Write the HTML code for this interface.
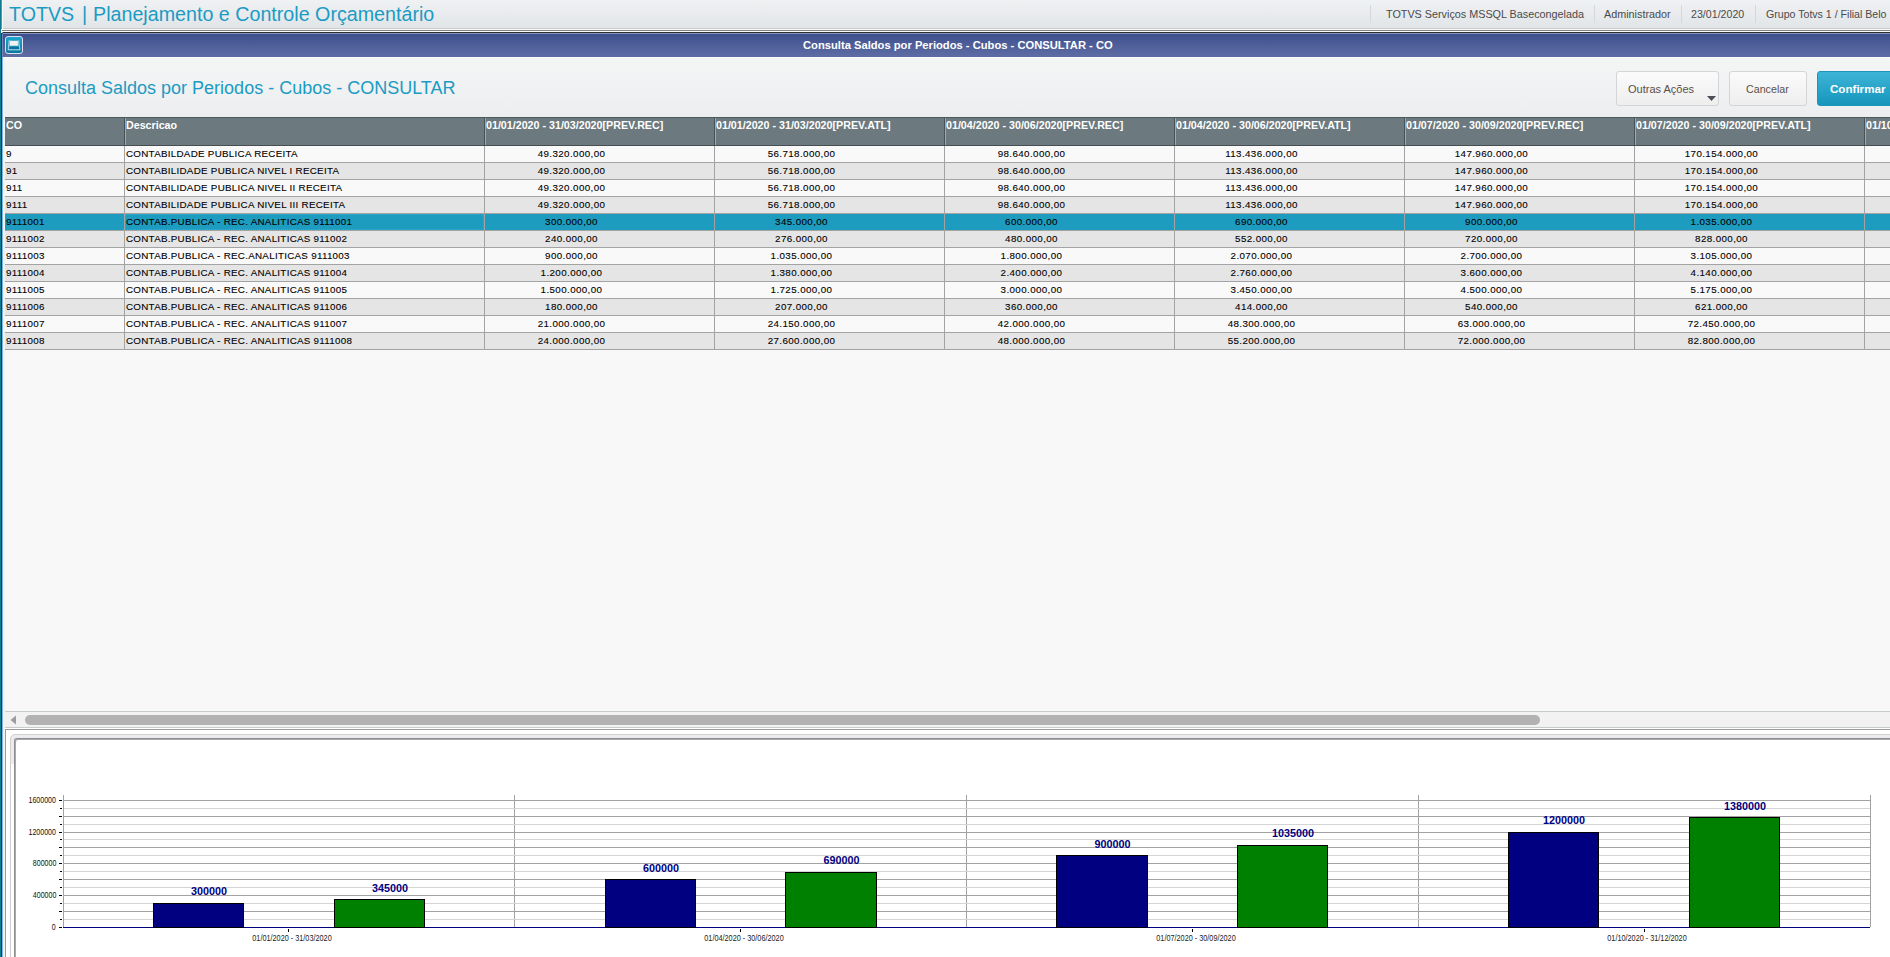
<!DOCTYPE html><html><head><meta charset="utf-8"><style>
*{margin:0;padding:0;box-sizing:border-box}
html,body{width:1890px;height:957px;overflow:hidden;background:#f8f8f8;font-family:"Liberation Sans", sans-serif}
.a{position:absolute}
.t{position:absolute;white-space:pre;line-height:1}
#topbar{left:0;top:0;width:1890px;height:28px;background:linear-gradient(#eff1f3,#e2e5e8)}
.apt{top:4px;font-size:20.5px;color:#1b9bc3;transform:scaleX(0.96);transform-origin:0 0}
.tr{font-size:10.8px;color:#4a4a4a;top:9px}
.sep{top:5px;width:1px;height:18px;background:#d5d8db}
#titlebar{left:2px;top:33px;width:1888px;height:24px;background:linear-gradient(#3c4e8b,#4b5b97 40%,#5e6da4)}
#wtitle{left:803px;top:40px;font-size:11.2px;font-weight:bold;color:#fff}
#content{left:3px;top:57px;width:1887px;height:60px;background:linear-gradient(#f4f5f5,#eceef0)}
#heading{left:25px;top:79px;font-size:18px;color:#1b9bc3}
.btn{position:absolute;top:71px;height:35px;border:1px solid #d3d5d7;border-radius:3px;background:linear-gradient(#fbfbfb,#eeeeee);font-size:11px;color:#5a5048}
.hdr{position:absolute;top:117px;height:29px;background:#6c7a7f;border-top:1px solid #4d585c;border-bottom:1px solid #464e51}
.hdrtxt{position:absolute;top:120px;font-size:10.7px;font-weight:bold;color:#fff;white-space:pre;line-height:1}
.row{position:absolute;left:5px;width:1885px;height:17px;border-bottom:1px solid #a3a3a3}
.cell{position:absolute;font-size:9.8px;letter-spacing:0.28px;color:#000;-webkit-text-stroke:0.1px #000;white-space:pre;line-height:1}
.ylab{font-size:8.2px;color:#111;transform:scaleX(0.86);transform-origin:100% 0}
.blab{font-size:10.8px;font-weight:bold;color:#000080}
.clab{font-size:8.3px;color:#222;transform:scaleX(0.878);transform-origin:50% 0}
.vs{position:absolute;width:1px;background:#a3a3a3}
</style></head><body>
<div class="a" id="topbar"></div>
<div class="t apt" style="left:9px">TOTVS</div>
<div class="t apt" style="left:82px">|</div>
<div class="t apt" style="left:93px">Planejamento e Controle Orçamentário</div>
<div class="a sep" style="left:1370px"></div>
<div class="a sep" style="left:1594px"></div>
<div class="a sep" style="left:1681px"></div>
<div class="a sep" style="left:1755px"></div>
<div class="t tr" style="left:1386px;font-size:10.8px">TOTVS Serviços MSSQL Basecongelada</div>
<div class="t tr" style="left:1604px;font-size:10.8px">Administrador</div>
<div class="t tr" style="left:1691px;font-size:10.65px">23/01/2020</div>
<div class="t tr" style="left:1766px;font-size:10.6px">Grupo Totvs 1 / Filial Belo</div>
<div class="a" style="left:0;top:28px;width:1890px;height:1px;background:#c9cdd0"></div>
<div class="a" style="left:2px;top:30px;width:1888px;height:1px;background:#828282"></div>
<div class="a" style="left:1px;top:29px;width:1889px;height:1px;background:#fafafa"></div>
<div class="a" style="left:1px;top:30px;width:1px;height:3px;background:#fafafa"></div>
<div class="a" style="left:1px;top:31px;width:1889px;height:1px;background:#fafafa"></div>
<div class="a" style="left:2px;top:32px;width:1px;height:1px;background:#9a9a9a"></div>
<div class="a" style="left:3px;top:32px;width:1887px;height:1px;background:#2e2e2e"></div>
<div class="a" id="titlebar"></div>
<div class="a" style="left:3px;top:33px;width:1887px;height:1px;background:#8795c4"></div>
<div class="t" id="wtitle">Consulta Saldos por Periodos - Cubos - CONSULTAR - CO</div>
<svg class="a" style="left:5px;top:36px" width="18" height="18" viewBox="0 0 18 18">
<defs><linearGradient id="ig" x1="0" y1="0" x2="0" y2="1"><stop offset="0" stop-color="#1ea8cf"/><stop offset="1" stop-color="#0a76a0"/></linearGradient>
<linearGradient id="ig2" x1="0" y1="0" x2="1" y2="0"><stop offset="0" stop-color="#8cc8dc"/><stop offset="0.5" stop-color="#3aa6c8"/><stop offset="1" stop-color="#7cc0d8"/></linearGradient></defs>
<rect x="0.5" y="0.5" width="17" height="17" rx="2.5" fill="url(#ig)" stroke="#e2dfec" stroke-width="1"/>
<path d="M4.2 4.2 L13.6 4.2 L15 13.9 L3.1 13.9 Z" fill="url(#ig2)" opacity="0.75"/>
<path d="M4.2 4.2 L3.1 13.9 L15 13.9 L13.6 4.2" fill="none" stroke="#cfe8f0" stroke-width="0.7"/>
<rect x="4.9" y="4.9" width="8" height="4.8" fill="#f2f2f2"/>
<path d="M4.4 10.4 L13.9 10.4 L14.2 12.9 L4.1 12.9 Z" fill="#0b72a0"/>
</svg>
<div class="a" id="content"></div>
<div class="a" style="left:3px;top:57px;width:1887px;height:1px;background:#fdfdfb"></div>
<div class="t" id="heading">Consulta Saldos por Periodos - Cubos - CONSULTAR</div>
<div class="btn" style="left:1616px;width:103px"><span class="t" style="left:11px;top:12px">Outras Ações</span><svg class="a" style="left:90px;top:24px" width="10" height="6"><path d="M0 0 L9 0 L4.5 5 Z" fill="#4a4e56"/></svg></div>
<div class="btn" style="left:1729px;width:78px"><span class="t" style="left:16px;top:12px;font-size:10.7px">Cancelar</span></div>
<div class="btn" style="left:1817px;width:80px;border-color:#1d95bb;background:linear-gradient(#3db4d6,#1596bd)"><span class="t" style="left:12px;top:11px;font-size:11.6px;font-weight:bold;color:#fff">Confirmar</span></div>
<div class="hdr" style="left:5px;width:1885px"></div>
<div class="a" style="left:124px;top:118px;width:1px;height:27px;background:#485155"></div>
<div class="a" style="left:125px;top:118px;width:1px;height:27px;background:#a0a9ac"></div>
<div class="a" style="left:484px;top:118px;width:1px;height:27px;background:#485155"></div>
<div class="a" style="left:485px;top:118px;width:1px;height:27px;background:#a0a9ac"></div>
<div class="a" style="left:714px;top:118px;width:1px;height:27px;background:#485155"></div>
<div class="a" style="left:715px;top:118px;width:1px;height:27px;background:#a0a9ac"></div>
<div class="a" style="left:944px;top:118px;width:1px;height:27px;background:#485155"></div>
<div class="a" style="left:945px;top:118px;width:1px;height:27px;background:#a0a9ac"></div>
<div class="a" style="left:1174px;top:118px;width:1px;height:27px;background:#485155"></div>
<div class="a" style="left:1175px;top:118px;width:1px;height:27px;background:#a0a9ac"></div>
<div class="a" style="left:1404px;top:118px;width:1px;height:27px;background:#485155"></div>
<div class="a" style="left:1405px;top:118px;width:1px;height:27px;background:#a0a9ac"></div>
<div class="a" style="left:1634px;top:118px;width:1px;height:27px;background:#485155"></div>
<div class="a" style="left:1635px;top:118px;width:1px;height:27px;background:#a0a9ac"></div>
<div class="a" style="left:1864px;top:118px;width:1px;height:27px;background:#485155"></div>
<div class="a" style="left:1865px;top:118px;width:1px;height:27px;background:#a0a9ac"></div>
<div class="hdrtxt" style="left:6px">CO</div>
<div class="hdrtxt" style="left:126px">Descricao</div>
<div class="hdrtxt" style="left:486px">01/01/2020 - 31/03/2020[PREV.REC]</div>
<div class="hdrtxt" style="left:716px">01/01/2020 - 31/03/2020[PREV.ATL]</div>
<div class="hdrtxt" style="left:946px">01/04/2020 - 30/06/2020[PREV.REC]</div>
<div class="hdrtxt" style="left:1176px">01/04/2020 - 30/06/2020[PREV.ATL]</div>
<div class="hdrtxt" style="left:1406px">01/07/2020 - 30/09/2020[PREV.REC]</div>
<div class="hdrtxt" style="left:1636px">01/07/2020 - 30/09/2020[PREV.ATL]</div>
<div class="hdrtxt" style="left:1866px">01/10/2020 - 31/12/2020[PREV.REC]</div>
<div class="row" style="top:146px;background:#f9f9f9"></div>
<div class="cell" style="left:6px;top:149px">9</div>
<div class="cell" style="left:126px;top:149px">CONTABILDADE PUBLICA RECEITA</div>
<div class="cell" style="left:511.5px;width:120px;text-align:center;top:148.5px;letter-spacing:0.38px;font-size:9.8px">49.320.000,00</div>
<div class="cell" style="left:741.5px;width:120px;text-align:center;top:148.5px;letter-spacing:0.38px;font-size:9.8px">56.718.000,00</div>
<div class="cell" style="left:971.5px;width:120px;text-align:center;top:148.5px;letter-spacing:0.38px;font-size:9.8px">98.640.000,00</div>
<div class="cell" style="left:1201.5px;width:120px;text-align:center;top:148.5px;letter-spacing:0.38px;font-size:9.8px">113.436.000,00</div>
<div class="cell" style="left:1431.5px;width:120px;text-align:center;top:148.5px;letter-spacing:0.38px;font-size:9.8px">147.960.000,00</div>
<div class="cell" style="left:1661.5px;width:120px;text-align:center;top:148.5px;letter-spacing:0.38px;font-size:9.8px">170.154.000,00</div>
<div class="row" style="top:163px;background:#e5e5e5"></div>
<div class="cell" style="left:6px;top:166px">91</div>
<div class="cell" style="left:126px;top:166px">CONTABILIDADE PUBLICA NIVEL I RECEITA</div>
<div class="cell" style="left:511.5px;width:120px;text-align:center;top:165.5px;letter-spacing:0.38px;font-size:9.8px">49.320.000,00</div>
<div class="cell" style="left:741.5px;width:120px;text-align:center;top:165.5px;letter-spacing:0.38px;font-size:9.8px">56.718.000,00</div>
<div class="cell" style="left:971.5px;width:120px;text-align:center;top:165.5px;letter-spacing:0.38px;font-size:9.8px">98.640.000,00</div>
<div class="cell" style="left:1201.5px;width:120px;text-align:center;top:165.5px;letter-spacing:0.38px;font-size:9.8px">113.436.000,00</div>
<div class="cell" style="left:1431.5px;width:120px;text-align:center;top:165.5px;letter-spacing:0.38px;font-size:9.8px">147.960.000,00</div>
<div class="cell" style="left:1661.5px;width:120px;text-align:center;top:165.5px;letter-spacing:0.38px;font-size:9.8px">170.154.000,00</div>
<div class="row" style="top:180px;background:#f9f9f9"></div>
<div class="cell" style="left:6px;top:183px">911</div>
<div class="cell" style="left:126px;top:183px">CONTABILIDADE PUBLICA NIVEL II RECEITA</div>
<div class="cell" style="left:511.5px;width:120px;text-align:center;top:182.5px;letter-spacing:0.38px;font-size:9.8px">49.320.000,00</div>
<div class="cell" style="left:741.5px;width:120px;text-align:center;top:182.5px;letter-spacing:0.38px;font-size:9.8px">56.718.000,00</div>
<div class="cell" style="left:971.5px;width:120px;text-align:center;top:182.5px;letter-spacing:0.38px;font-size:9.8px">98.640.000,00</div>
<div class="cell" style="left:1201.5px;width:120px;text-align:center;top:182.5px;letter-spacing:0.38px;font-size:9.8px">113.436.000,00</div>
<div class="cell" style="left:1431.5px;width:120px;text-align:center;top:182.5px;letter-spacing:0.38px;font-size:9.8px">147.960.000,00</div>
<div class="cell" style="left:1661.5px;width:120px;text-align:center;top:182.5px;letter-spacing:0.38px;font-size:9.8px">170.154.000,00</div>
<div class="row" style="top:197px;background:#e5e5e5"></div>
<div class="cell" style="left:6px;top:200px">9111</div>
<div class="cell" style="left:126px;top:200px">CONTABILIDADE PUBLICA NIVEL III RECEITA</div>
<div class="cell" style="left:511.5px;width:120px;text-align:center;top:199.5px;letter-spacing:0.38px;font-size:9.8px">49.320.000,00</div>
<div class="cell" style="left:741.5px;width:120px;text-align:center;top:199.5px;letter-spacing:0.38px;font-size:9.8px">56.718.000,00</div>
<div class="cell" style="left:971.5px;width:120px;text-align:center;top:199.5px;letter-spacing:0.38px;font-size:9.8px">98.640.000,00</div>
<div class="cell" style="left:1201.5px;width:120px;text-align:center;top:199.5px;letter-spacing:0.38px;font-size:9.8px">113.436.000,00</div>
<div class="cell" style="left:1431.5px;width:120px;text-align:center;top:199.5px;letter-spacing:0.38px;font-size:9.8px">147.960.000,00</div>
<div class="cell" style="left:1661.5px;width:120px;text-align:center;top:199.5px;letter-spacing:0.38px;font-size:9.8px">170.154.000,00</div>
<div class="row" style="top:214px;background:#1e9cbf"></div>
<div class="cell" style="left:6px;top:217px">9111001</div>
<div class="cell" style="left:126px;top:217px">CONTAB.PUBLICA - REC. ANALITICAS 9111001</div>
<div class="cell" style="left:511.5px;width:120px;text-align:center;top:216.5px;letter-spacing:0.38px;font-size:9.8px">300.000,00</div>
<div class="cell" style="left:741.5px;width:120px;text-align:center;top:216.5px;letter-spacing:0.38px;font-size:9.8px">345.000,00</div>
<div class="cell" style="left:971.5px;width:120px;text-align:center;top:216.5px;letter-spacing:0.38px;font-size:9.8px">600.000,00</div>
<div class="cell" style="left:1201.5px;width:120px;text-align:center;top:216.5px;letter-spacing:0.38px;font-size:9.8px">690.000,00</div>
<div class="cell" style="left:1431.5px;width:120px;text-align:center;top:216.5px;letter-spacing:0.38px;font-size:9.8px">900.000,00</div>
<div class="cell" style="left:1661.5px;width:120px;text-align:center;top:216.5px;letter-spacing:0.38px;font-size:9.8px">1.035.000,00</div>
<div class="row" style="top:231px;background:#e5e5e5"></div>
<div class="cell" style="left:6px;top:234px">9111002</div>
<div class="cell" style="left:126px;top:234px">CONTAB.PUBLICA - REC. ANALITICAS 911002</div>
<div class="cell" style="left:511.5px;width:120px;text-align:center;top:233.5px;letter-spacing:0.38px;font-size:9.8px">240.000,00</div>
<div class="cell" style="left:741.5px;width:120px;text-align:center;top:233.5px;letter-spacing:0.38px;font-size:9.8px">276.000,00</div>
<div class="cell" style="left:971.5px;width:120px;text-align:center;top:233.5px;letter-spacing:0.38px;font-size:9.8px">480.000,00</div>
<div class="cell" style="left:1201.5px;width:120px;text-align:center;top:233.5px;letter-spacing:0.38px;font-size:9.8px">552.000,00</div>
<div class="cell" style="left:1431.5px;width:120px;text-align:center;top:233.5px;letter-spacing:0.38px;font-size:9.8px">720.000,00</div>
<div class="cell" style="left:1661.5px;width:120px;text-align:center;top:233.5px;letter-spacing:0.38px;font-size:9.8px">828.000,00</div>
<div class="row" style="top:248px;background:#f9f9f9"></div>
<div class="cell" style="left:6px;top:251px">9111003</div>
<div class="cell" style="left:126px;top:251px">CONTAB.PUBLICA - REC.ANALITICAS 9111003</div>
<div class="cell" style="left:511.5px;width:120px;text-align:center;top:250.5px;letter-spacing:0.38px;font-size:9.8px">900.000,00</div>
<div class="cell" style="left:741.5px;width:120px;text-align:center;top:250.5px;letter-spacing:0.38px;font-size:9.8px">1.035.000,00</div>
<div class="cell" style="left:971.5px;width:120px;text-align:center;top:250.5px;letter-spacing:0.38px;font-size:9.8px">1.800.000,00</div>
<div class="cell" style="left:1201.5px;width:120px;text-align:center;top:250.5px;letter-spacing:0.38px;font-size:9.8px">2.070.000,00</div>
<div class="cell" style="left:1431.5px;width:120px;text-align:center;top:250.5px;letter-spacing:0.38px;font-size:9.8px">2.700.000,00</div>
<div class="cell" style="left:1661.5px;width:120px;text-align:center;top:250.5px;letter-spacing:0.38px;font-size:9.8px">3.105.000,00</div>
<div class="row" style="top:265px;background:#e5e5e5"></div>
<div class="cell" style="left:6px;top:268px">9111004</div>
<div class="cell" style="left:126px;top:268px">CONTAB.PUBLICA - REC. ANALITICAS 911004</div>
<div class="cell" style="left:511.5px;width:120px;text-align:center;top:267.5px;letter-spacing:0.38px;font-size:9.8px">1.200.000,00</div>
<div class="cell" style="left:741.5px;width:120px;text-align:center;top:267.5px;letter-spacing:0.38px;font-size:9.8px">1.380.000,00</div>
<div class="cell" style="left:971.5px;width:120px;text-align:center;top:267.5px;letter-spacing:0.38px;font-size:9.8px">2.400.000,00</div>
<div class="cell" style="left:1201.5px;width:120px;text-align:center;top:267.5px;letter-spacing:0.38px;font-size:9.8px">2.760.000,00</div>
<div class="cell" style="left:1431.5px;width:120px;text-align:center;top:267.5px;letter-spacing:0.38px;font-size:9.8px">3.600.000,00</div>
<div class="cell" style="left:1661.5px;width:120px;text-align:center;top:267.5px;letter-spacing:0.38px;font-size:9.8px">4.140.000,00</div>
<div class="row" style="top:282px;background:#f9f9f9"></div>
<div class="cell" style="left:6px;top:285px">9111005</div>
<div class="cell" style="left:126px;top:285px">CONTAB.PUBLICA - REC. ANALITICAS 911005</div>
<div class="cell" style="left:511.5px;width:120px;text-align:center;top:284.5px;letter-spacing:0.38px;font-size:9.8px">1.500.000,00</div>
<div class="cell" style="left:741.5px;width:120px;text-align:center;top:284.5px;letter-spacing:0.38px;font-size:9.8px">1.725.000,00</div>
<div class="cell" style="left:971.5px;width:120px;text-align:center;top:284.5px;letter-spacing:0.38px;font-size:9.8px">3.000.000,00</div>
<div class="cell" style="left:1201.5px;width:120px;text-align:center;top:284.5px;letter-spacing:0.38px;font-size:9.8px">3.450.000,00</div>
<div class="cell" style="left:1431.5px;width:120px;text-align:center;top:284.5px;letter-spacing:0.38px;font-size:9.8px">4.500.000,00</div>
<div class="cell" style="left:1661.5px;width:120px;text-align:center;top:284.5px;letter-spacing:0.38px;font-size:9.8px">5.175.000,00</div>
<div class="row" style="top:299px;background:#e5e5e5"></div>
<div class="cell" style="left:6px;top:302px">9111006</div>
<div class="cell" style="left:126px;top:302px">CONTAB.PUBLICA - REC. ANALITICAS 911006</div>
<div class="cell" style="left:511.5px;width:120px;text-align:center;top:301.5px;letter-spacing:0.38px;font-size:9.8px">180.000,00</div>
<div class="cell" style="left:741.5px;width:120px;text-align:center;top:301.5px;letter-spacing:0.38px;font-size:9.8px">207.000,00</div>
<div class="cell" style="left:971.5px;width:120px;text-align:center;top:301.5px;letter-spacing:0.38px;font-size:9.8px">360.000,00</div>
<div class="cell" style="left:1201.5px;width:120px;text-align:center;top:301.5px;letter-spacing:0.38px;font-size:9.8px">414.000,00</div>
<div class="cell" style="left:1431.5px;width:120px;text-align:center;top:301.5px;letter-spacing:0.38px;font-size:9.8px">540.000,00</div>
<div class="cell" style="left:1661.5px;width:120px;text-align:center;top:301.5px;letter-spacing:0.38px;font-size:9.8px">621.000,00</div>
<div class="row" style="top:316px;background:#f9f9f9"></div>
<div class="cell" style="left:6px;top:319px">9111007</div>
<div class="cell" style="left:126px;top:319px">CONTAB.PUBLICA - REC. ANALITICAS 911007</div>
<div class="cell" style="left:511.5px;width:120px;text-align:center;top:318.5px;letter-spacing:0.38px;font-size:9.8px">21.000.000,00</div>
<div class="cell" style="left:741.5px;width:120px;text-align:center;top:318.5px;letter-spacing:0.38px;font-size:9.8px">24.150.000,00</div>
<div class="cell" style="left:971.5px;width:120px;text-align:center;top:318.5px;letter-spacing:0.38px;font-size:9.8px">42.000.000,00</div>
<div class="cell" style="left:1201.5px;width:120px;text-align:center;top:318.5px;letter-spacing:0.38px;font-size:9.8px">48.300.000,00</div>
<div class="cell" style="left:1431.5px;width:120px;text-align:center;top:318.5px;letter-spacing:0.38px;font-size:9.8px">63.000.000,00</div>
<div class="cell" style="left:1661.5px;width:120px;text-align:center;top:318.5px;letter-spacing:0.38px;font-size:9.8px">72.450.000,00</div>
<div class="row" style="top:333px;background:#e5e5e5"></div>
<div class="cell" style="left:6px;top:336px">9111008</div>
<div class="cell" style="left:126px;top:336px">CONTAB.PUBLICA - REC. ANALITICAS 9111008</div>
<div class="cell" style="left:511.5px;width:120px;text-align:center;top:335.5px;letter-spacing:0.38px;font-size:9.8px">24.000.000,00</div>
<div class="cell" style="left:741.5px;width:120px;text-align:center;top:335.5px;letter-spacing:0.38px;font-size:9.8px">27.600.000,00</div>
<div class="cell" style="left:971.5px;width:120px;text-align:center;top:335.5px;letter-spacing:0.38px;font-size:9.8px">48.000.000,00</div>
<div class="cell" style="left:1201.5px;width:120px;text-align:center;top:335.5px;letter-spacing:0.38px;font-size:9.8px">55.200.000,00</div>
<div class="cell" style="left:1431.5px;width:120px;text-align:center;top:335.5px;letter-spacing:0.38px;font-size:9.8px">72.000.000,00</div>
<div class="cell" style="left:1661.5px;width:120px;text-align:center;top:335.5px;letter-spacing:0.38px;font-size:9.8px">82.800.000,00</div>
<div class="vs" style="left:124px;top:146px;height:204px"></div>
<div class="vs" style="left:484px;top:146px;height:204px"></div>
<div class="vs" style="left:714px;top:146px;height:204px"></div>
<div class="vs" style="left:944px;top:146px;height:204px"></div>
<div class="vs" style="left:1174px;top:146px;height:204px"></div>
<div class="vs" style="left:1404px;top:146px;height:204px"></div>
<div class="vs" style="left:1634px;top:146px;height:204px"></div>
<div class="vs" style="left:1864px;top:146px;height:204px"></div>
<div class="a" style="left:125px;top:214px;width:359px;height:16px;border:1px dotted #f06a3c"></div>
<div class="a" style="left:5px;top:728px;width:1885px;height:229px;background:#fff"></div>
<div class="a" style="left:5px;top:729px;width:1885px;height:1px;background:#9a9a9a"></div>
<div class="a" style="left:5px;top:729px;width:1px;height:228px;background:#9a9a9a"></div>
<div class="a" style="left:10px;top:734px;width:1900px;height:260px;border:1px solid #d2d0ca;border-radius:5px;background:#ebebf0"></div>
<div class="a" style="left:10px;top:764px;width:1px;height:193px;background:#c9cfd3"></div>
<div class="a" style="left:11px;top:764px;width:3px;height:193px;background:#fff"></div>
<div class="a" style="left:14px;top:738px;width:1890px;height:250px;border-top:1px solid #8e8e8e;border-left:1px solid #8e8e8e;box-shadow:inset 1px 1px 0 #a9a9a9;border-radius:3px 0 0 0;background:#fff"></div>
<div class="a" style="left:5px;top:711px;width:1885px;height:17px;background:#f2f2f2;border-top:1px solid #c6cbcd;border-bottom:1px solid #c6cbcd"></div>
<svg class="a" style="left:10px;top:715px" width="7" height="10"><path d="M0.5 5 L6 0.5 L6 9.5 Z" fill="#9c9c9c"/></svg>
<div class="a" style="left:25px;top:715px;width:1515px;height:10px;border-radius:5px;background:#b2b2b2"></div>
<svg class="a" style="left:0;top:790px" width="1890" height="160" viewBox="0 790 1890 160" shape-rendering="crispEdges">
<rect x="514" y="795" width="1" height="132" fill="#a2a2a2"/>
<rect x="966" y="795" width="1" height="132" fill="#a2a2a2"/>
<rect x="1418" y="795" width="1" height="132" fill="#a2a2a2"/>
<rect x="1870" y="795" width="1" height="132" fill="#a2a2a2"/>
<rect x="63" y="795" width="1" height="133" fill="#a2a2a2"/>
<rect x="64" y="800" width="1806" height="1" fill="#a2a2a2"/>
<rect x="59" y="800" width="3" height="1" fill="#000"/>
<rect x="64" y="808" width="1806" height="1" fill="#d4d4d4"/>
<rect x="60" y="808" width="2" height="1" fill="#000"/>
<rect x="64" y="816" width="1806" height="1" fill="#a2a2a2"/>
<rect x="59" y="816" width="3" height="1" fill="#000"/>
<rect x="64" y="824" width="1806" height="1" fill="#d4d4d4"/>
<rect x="60" y="824" width="2" height="1" fill="#000"/>
<rect x="64" y="832" width="1806" height="1" fill="#a2a2a2"/>
<rect x="59" y="832" width="3" height="1" fill="#000"/>
<rect x="64" y="839" width="1806" height="1" fill="#d4d4d4"/>
<rect x="60" y="839" width="2" height="1" fill="#000"/>
<rect x="64" y="847" width="1806" height="1" fill="#a2a2a2"/>
<rect x="59" y="847" width="3" height="1" fill="#000"/>
<rect x="64" y="855" width="1806" height="1" fill="#d4d4d4"/>
<rect x="60" y="855" width="2" height="1" fill="#000"/>
<rect x="64" y="863" width="1806" height="1" fill="#a2a2a2"/>
<rect x="59" y="863" width="3" height="1" fill="#000"/>
<rect x="64" y="871" width="1806" height="1" fill="#d4d4d4"/>
<rect x="60" y="871" width="2" height="1" fill="#000"/>
<rect x="64" y="879" width="1806" height="1" fill="#a2a2a2"/>
<rect x="59" y="879" width="3" height="1" fill="#000"/>
<rect x="64" y="887" width="1806" height="1" fill="#d4d4d4"/>
<rect x="60" y="887" width="2" height="1" fill="#000"/>
<rect x="64" y="895" width="1806" height="1" fill="#a2a2a2"/>
<rect x="59" y="895" width="3" height="1" fill="#000"/>
<rect x="64" y="903" width="1806" height="1" fill="#d4d4d4"/>
<rect x="60" y="903" width="2" height="1" fill="#000"/>
<rect x="64" y="911" width="1806" height="1" fill="#a2a2a2"/>
<rect x="59" y="911" width="3" height="1" fill="#000"/>
<rect x="64" y="919" width="1806" height="1" fill="#d4d4d4"/>
<rect x="60" y="919" width="2" height="1" fill="#000"/>
<rect x="59" y="927" width="3" height="1" fill="#000"/>
<rect x="288" y="929" width="1" height="3" fill="#000"/>
<rect x="740" y="929" width="1" height="3" fill="#000"/>
<rect x="1192" y="929" width="1" height="3" fill="#000"/>
<rect x="1644" y="929" width="1" height="3" fill="#000"/>
<rect x="63" y="927" width="1807" height="1" fill="#000080"/>
<rect x="153" y="903" width="91" height="25" fill="#000"/>
<rect x="154" y="904" width="89" height="23" fill="#000080"/>
<rect x="334" y="899" width="91" height="29" fill="#000"/>
<rect x="335" y="900" width="89" height="27" fill="#008000"/>
<rect x="605" y="879" width="91" height="49" fill="#000"/>
<rect x="606" y="880" width="89" height="47" fill="#000080"/>
<rect x="785" y="872" width="92" height="56" fill="#000"/>
<rect x="786" y="873" width="90" height="54" fill="#008000"/>
<rect x="1056" y="855" width="92" height="73" fill="#000"/>
<rect x="1057" y="856" width="90" height="71" fill="#000080"/>
<rect x="1237" y="845" width="91" height="83" fill="#000"/>
<rect x="1238" y="846" width="89" height="81" fill="#008000"/>
<rect x="1508" y="832" width="91" height="96" fill="#000"/>
<rect x="1509" y="833" width="89" height="94" fill="#000080"/>
<rect x="1689" y="817" width="91" height="111" fill="#000"/>
<rect x="1690" y="818" width="89" height="109" fill="#008000"/>
</svg>
<div class="t ylab" style="right:1834px;top:797px">1600000</div>
<div class="t ylab" style="right:1834px;top:829px">1200000</div>
<div class="t ylab" style="right:1834px;top:860px">800000</div>
<div class="t ylab" style="right:1834px;top:892px">400000</div>
<div class="t ylab" style="right:1834px;top:924px">0</div>
<div class="t blab" style="left:179.0px;width:60px;text-align:center;top:886px">300000</div>
<div class="t blab" style="left:360.0px;width:60px;text-align:center;top:883px">345000</div>
<div class="t blab" style="left:631.0px;width:60px;text-align:center;top:863px">600000</div>
<div class="t blab" style="left:811.5px;width:60px;text-align:center;top:855px">690000</div>
<div class="t blab" style="left:1082.5px;width:60px;text-align:center;top:839px">900000</div>
<div class="t blab" style="left:1263.0px;width:60px;text-align:center;top:828px">1035000</div>
<div class="t blab" style="left:1534.0px;width:60px;text-align:center;top:815px">1200000</div>
<div class="t blab" style="left:1715.0px;width:60px;text-align:center;top:801px">1380000</div>
<div class="t clab" style="left:231.60000000000002px;width:120px;text-align:center;top:934px">01/01/2020 - 31/03/2020</div>
<div class="t clab" style="left:683.7px;width:120px;text-align:center;top:934px">01/04/2020 - 30/06/2020</div>
<div class="t clab" style="left:1135.5px;width:120px;text-align:center;top:934px">01/07/2020 - 30/09/2020</div>
<div class="t clab" style="left:1586.6px;width:120px;text-align:center;top:934px">01/10/2020 - 31/12/2020</div>
<div class="a" style="left:0;top:0;width:1px;height:957px;background:#0d7b90"></div>
<div class="a" style="left:1px;top:0;width:1px;height:29px;background:#8a8585"></div>
<div class="a" style="left:2px;top:0;width:1px;height:29px;background:#fafafa"></div>
<div class="a" style="left:1px;top:33px;width:1px;height:24px;background:#3a3a3a"></div>
<div class="a" style="left:2px;top:34px;width:1px;height:23px;background:#7585bd"></div>
<div class="a" style="left:1px;top:57px;width:1px;height:900px;background:#033e6c"></div>
<div class="a" style="left:2px;top:57px;width:1px;height:900px;background:#7cb6e6"></div>
<div class="a" style="left:3px;top:57px;width:1px;height:900px;background:#f4f1ee"></div>
<div class="a" style="left:4px;top:58px;width:1px;height:899px;background:#f2f2f2"></div>
</body></html>
